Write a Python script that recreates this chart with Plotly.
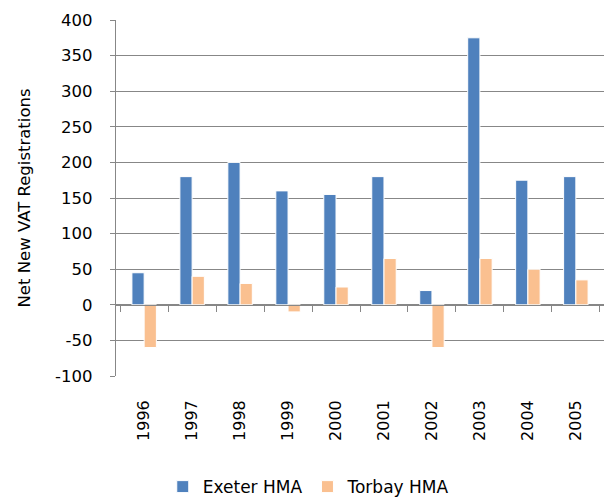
import plotly.graph_objects as go

years = ["1996", "1997", "1998", "1999", "2000", "2001", "2002", "2003", "2004", "2005"]
exeter = [45, 180, 200, 160, 155, 180, 20, 375, 175, 180]
torbay = [-60, 40, 30, -10, 25, 65, -60, 65, 50, 35]
y_ticks = [-100, -50, 0, 50, 100, 150, 200, 250, 300, 350, 400]
y_tick_text = ["-100", "-50", "0", "50", "100", "150", "200", "250", "300", "350", "400"]

FONT = "DejaVu Sans, Liberation Sans, sans-serif"
GRID = "#878787"

fig = go.Figure()
fig.add_trace(go.Bar(x=years, y=exeter, name="Exeter HMA",
                     marker=dict(color="#4F81BD", line=dict(color="white", width=1))))
fig.add_trace(go.Bar(x=years, y=torbay, name="Torbay HMA",
                     marker=dict(color="#FAC090", line=dict(color="white", width=1))))
# invisible trace to carry the category axis drawn along the zero line
fig.add_trace(go.Scatter(x=years, y=[0] * len(years), xaxis="x2", yaxis="y",
                         mode="markers", marker=dict(opacity=0), showlegend=False,
                         hoverinfo="skip"))

ymin, ymax = -100, 400
fig.update_layout(
    width=611, height=497,
    margin=dict(l=116, r=7, t=20, b=121, autoexpand=False),
    paper_bgcolor="white", plot_bgcolor="white",
    font=dict(family=FONT, size=16, color="#000000"),
    barmode="group", bargap=0.49, bargroupgap=0.0,
    showlegend=True,
    legend=dict(orientation="h", x=0.395, xanchor="center", y=-0.312, yanchor="middle",
                font=dict(size=17), traceorder="normal", itemwidth=30),
    xaxis=dict(type="category", showgrid=False, showline=False, ticks="",
               tickangle=-90, tickfont=dict(size=16), ticklabelstandoff=20,
               zeroline=False, automargin=False),
    xaxis2=dict(type="category", overlaying="x", matches="x", anchor="free",
                position=(0 - ymin) / (ymax - ymin), showline=True, linecolor=GRID,
                linewidth=1.3, ticks="outside", tickson="boundaries", ticklen=6,
                tickcolor=GRID, showticklabels=False, showgrid=False, side="bottom",
                automargin=False),
    yaxis=dict(range=[ymin, ymax], tickvals=y_ticks, ticktext=y_tick_text,
               showgrid=True, gridcolor=GRID,
               gridwidth=1.3, showline=True, linecolor=GRID, linewidth=1.3,
               ticks="outside", ticklen=5, tickcolor=GRID, zeroline=False,
               tickfont=dict(size=16.5), ticklabelstandoff=14, automargin=False,
               title=dict(text="Net New VAT Registrations", font=dict(size=16.5),
                          standoff=20)),
)

fig.write_html("out.html", config={"displayModeBar": False},
               post_script="document.body.style.margin='0';document.body.style.overflow='hidden';")
